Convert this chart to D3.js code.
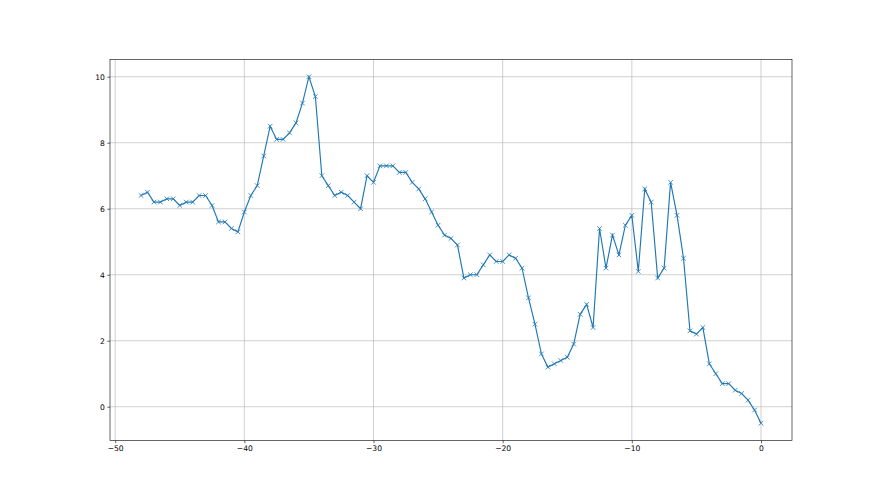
<!DOCTYPE html>
<html>
<head>
<meta charset="utf-8">
<script src="https://cdn.jsdelivr.net/npm/d3@7"></script>
<style>
  body { margin: 0; background: #fff; }
  svg { display: block; }
  .tick text { font-family: "DejaVu Sans", sans-serif; font-size: 7.6px; fill: #000; }
</style>
</head>
<body>
<div id="chart"></div>
<script>
var svgWidth = 880;
var svgHeight = 495;

var margin = { top: 59.4, right: 88, bottom: 54.45, left: 110 };

var width = svgWidth - margin.left - margin.right;
var height = svgHeight - margin.top - margin.bottom;

// x positions (step 0.5) and values
var xValues = [
  -48, -47.5, -47, -46.5, -46, -45.5, -45, -44.5, -44, -43.5,
  -43, -42.5, -42, -41.5, -41, -40.5, -40, -39.5, -39, -38.5,
  -38, -37.5, -37, -36.5, -36, -35.5, -35, -34.5, -34, -33.5,
  -33, -32.5, -32, -31.5, -31, -30.5, -30, -29.5, -29, -28.5,
  -28, -27.5, -27, -26.5, -26, -25.5, -25, -24.5, -24, -23.5,
  -23, -22.5, -22, -21.5, -21, -20.5, -20, -19.5, -19, -18.5,
  -18, -17.5, -17, -16.5, -16, -15.5, -15, -14.5, -14, -13.5,
  -13, -12.5, -12, -11.5, -11, -10.5, -10, -9.5, -9, -8.5,
  -8, -7.5, -7, -6.5, -6, -5.5, -5, -4.5, -4, -3.5,
  -3, -2.5, -2, -1.5, -1, -0.5, 0
];
var yValues = [
  6.4, 6.5, 6.2, 6.2, 6.3, 6.3, 6.1, 6.2, 6.2, 6.4,
  6.4, 6.1, 5.6, 5.6, 5.4, 5.3, 5.9, 6.4, 6.7, 7.6,
  8.5, 8.1, 8.1, 8.3, 8.6, 9.2, 10.0, 9.4, 7.0, 6.7,
  6.4, 6.5, 6.4, 6.2, 6.0, 7.0, 6.8, 7.3, 7.3, 7.3,
  7.1, 7.1, 6.8, 6.6, 6.3, 5.9, 5.5, 5.2, 5.1, 4.9,
  3.9, 4.0, 4.0, 4.3, 4.6, 4.4, 4.4, 4.6, 4.5, 4.2,
  3.3, 2.5, 1.6, 1.2, 1.3, 1.4, 1.5, 1.9, 2.8, 3.1,
  2.4, 5.4, 4.2, 5.2, 4.6, 5.5, 5.8, 4.1, 6.6, 6.2,
  3.9, 4.2, 6.8, 5.8, 4.5, 2.3, 2.2, 2.4, 1.3, 1.0,
  0.7, 0.7, 0.5, 0.4, 0.2, -0.1, -0.5
];
var xTicks = [-50, -40, -30, -20, -10, 0];
var yTicks = [0, 2, 4, 6, 8, 10];

var data = xValues.map(function(x, i) { return { x: x, y: yValues[i] }; });

var svg = d3.select("#chart")
  .append("svg")
  .attr("width", svgWidth)
  .attr("height", svgHeight);

var chartGroup = svg.append("g")
  .attr("transform", `translate(${margin.left}, ${margin.top})`);

// matplotlib-like 5% padding
var xMin = d3.min(xValues), xMax = d3.max(xValues);
var yMin = d3.min(yValues), yMax = d3.max(yValues);
var xPad = (xMax - xMin) * 0.05, yPad = (yMax - yMin) * 0.05;

var xScale = d3.scaleLinear()
  .domain([xMin - xPad, xMax + xPad])
  .range([0, width]);

var yScale = d3.scaleLinear()
  .domain([yMin - yPad, yMax + yPad])
  .range([height, 0]);

// grid
chartGroup.append("g")
  .selectAll("line")
  .data(xTicks)
  .enter()
  .append("line")
  .attr("x1", d => xScale(d)).attr("x2", d => xScale(d))
  .attr("y1", 0).attr("y2", height)
  .attr("stroke", "#b0b0b0")
  .attr("stroke-width", 0.6);

chartGroup.append("g")
  .selectAll("line")
  .data(yTicks)
  .enter()
  .append("line")
  .attr("y1", d => yScale(d)).attr("y2", d => yScale(d))
  .attr("x1", 0).attr("x2", width)
  .attr("stroke", "#b0b0b0")
  .attr("stroke-width", 0.6);

var fmt = d => (d < 0 ? "\u2212" + Math.abs(d) : String(d));

var bottomAxis = d3.axisBottom(xScale).tickValues(xTicks).tickFormat(fmt).tickSize(2.7).tickPadding(2.5);
var leftAxis = d3.axisLeft(yScale).tickValues(yTicks).tickFormat(fmt).tickSize(2.7).tickPadding(2.5);

var gx = chartGroup.append("g")
  .attr("transform", `translate(0, ${height})`)
  .call(bottomAxis);
var gy = chartGroup.append("g")
  .call(leftAxis);

[gx, gy].forEach(function(g) {
  g.select(".domain").remove();
  g.selectAll(".tick line").attr("stroke", "#000").attr("stroke-width", 0.6);
});

// line
var line = d3.line()
  .x(d => xScale(d.x))
  .y(d => yScale(d.y));

chartGroup.append("path")
  .datum(data)
  .attr("fill", "none")
  .attr("stroke", "#1f77b4")
  .attr("stroke-width", 1.15)
  .attr("d", line);

// x markers
var m = 2.3;
chartGroup.append("g")
  .selectAll("path")
  .data(data)
  .enter()
  .append("path")
  .attr("d", d => {
    var cx = xScale(d.x), cy = yScale(d.y);
    return `M${cx - m},${cy - m}L${cx + m},${cy + m}M${cx - m},${cy + m}L${cx + m},${cy - m}`;
  })
  .attr("stroke", "#1f77b4")
  .attr("stroke-width", 0.8)
  .attr("fill", "none");

// frame
chartGroup.append("rect")
  .attr("x", 0).attr("y", 0)
  .attr("width", width).attr("height", height)
  .attr("fill", "none")
  .attr("stroke", "#000")
  .attr("stroke-width", 0.6);
</script>
</body>
</html>
